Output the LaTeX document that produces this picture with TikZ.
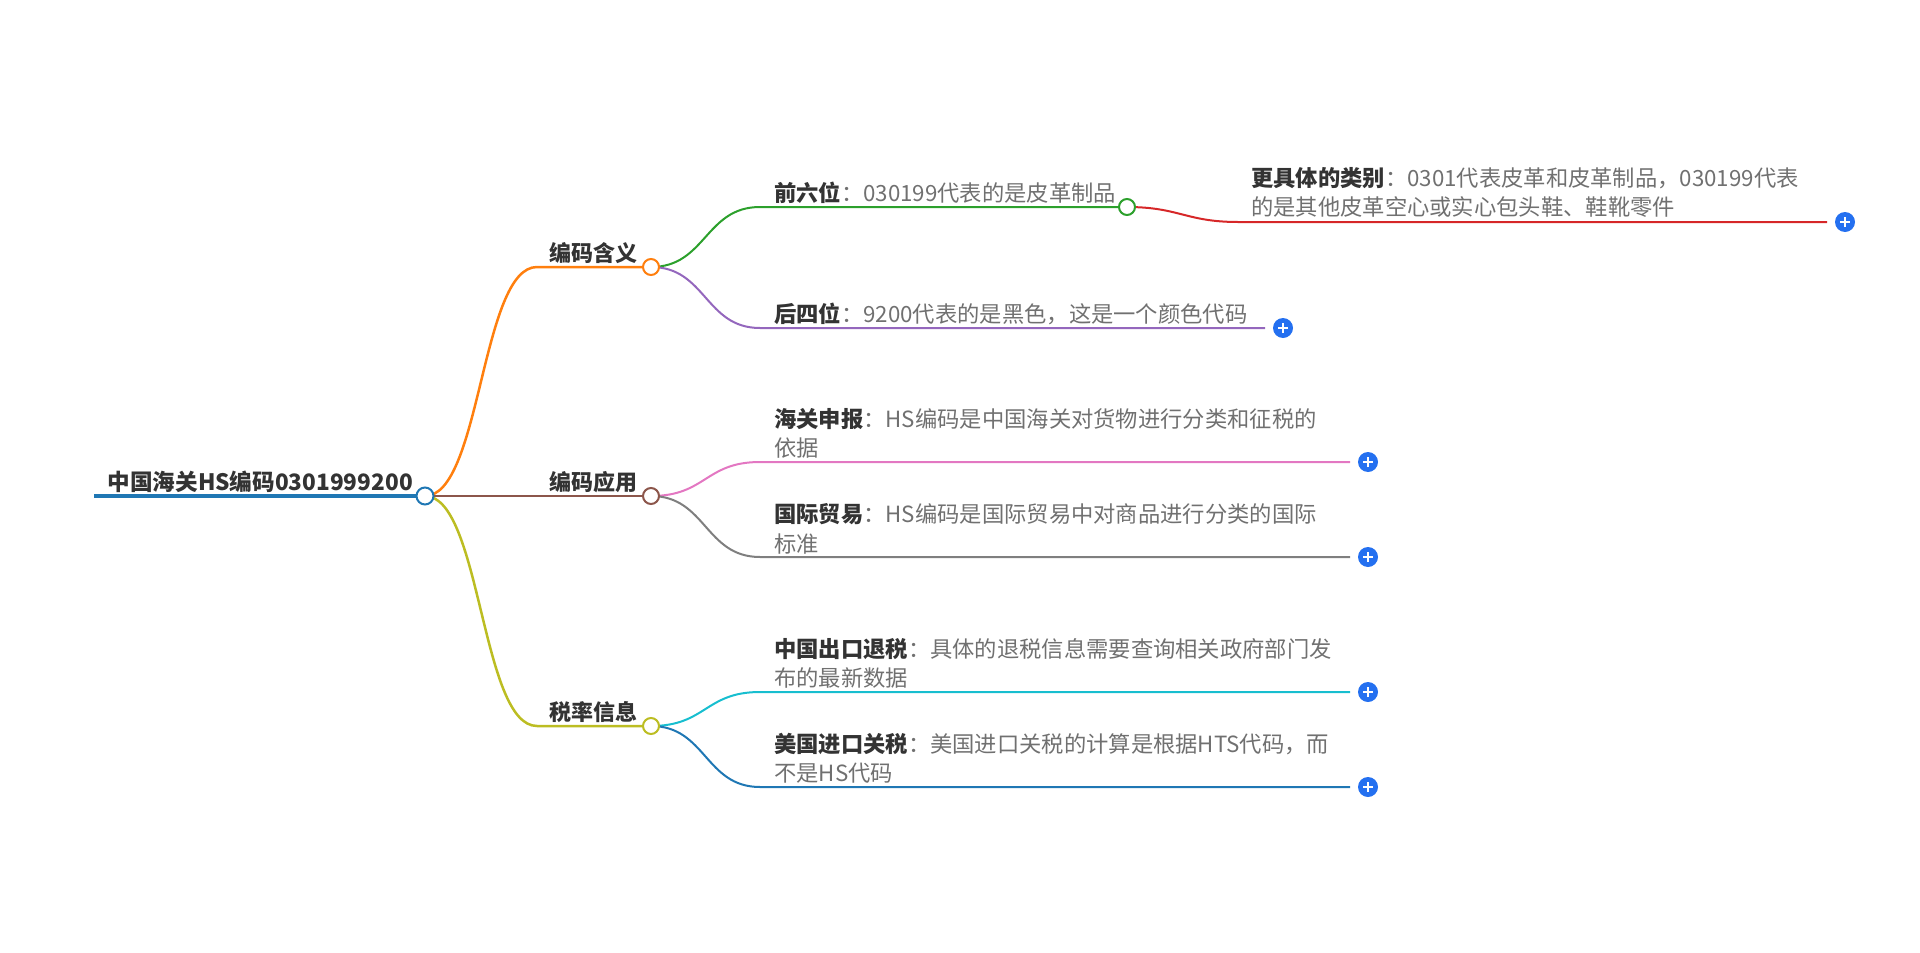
\documentclass[tikz,border=0pt]{standalone}
\usepackage{fontspec}
\setmainfont{Noto Sans CJK SC}
\usepackage{xcolor}
\usepackage{tikz}

\definecolor{cblue}{HTML}{1F77B4}
\definecolor{corange}{HTML}{FF7F0E}
\definecolor{cgreen}{HTML}{2CA02C}
\definecolor{cred}{HTML}{D62728}
\definecolor{cpurple}{HTML}{9467BD}
\definecolor{cbrown}{HTML}{8C564B}
\definecolor{cpink}{HTML}{E377C2}
\definecolor{cgray}{HTML}{7F7F7F}
\definecolor{colive}{HTML}{BCBD22}
\definecolor{ccyan}{HTML}{17BECF}
\definecolor{btn}{HTML}{2470F0}
\definecolor{ink}{HTML}{333333}
\definecolor{soft}{HTML}{707070}

\begin{document}
\begin{tikzpicture}[x=1pt,y=-1pt,
    hd/.style={inner sep=0,anchor=south east,text=ink,font=\fontsize{22}{26}\selectfont\bfseries},
    lbl/.style={inner sep=0,anchor=south west,align=left,text=soft,font=\fontsize{22.3}{29.5}\selectfont},
    dot/.style={circle,draw=#1,fill=white,line width=2pt,minimum size=16pt,inner sep=0},
    plus/.style={circle,fill=btn,minimum size=20pt,inner sep=0,
        path picture={\draw[white,line width=2pt]
            ([xshift=-5pt]path picture bounding box.center) -- ([xshift=5pt]path picture bounding box.center)
            ([yshift=-5pt]path picture bounding box.center) -- ([yshift=5pt]path picture bounding box.center);}},
    l1/.style={line width=2.5pt,draw=#1},
    l2/.style={line width=2pt,draw=#1},
    swing/.style={out=0,in=180,distance=#1}]
    \useasboundingbox (0,0) rectangle (1920,953);

    \coordinate (rootL) at (94,496);
    \coordinate (root) at (425,496);
    \coordinate (meanS) at (537,267);
    \coordinate (mean) at (651,267);
    \coordinate (use) at (651,496);
    \coordinate (rateS) at (537,726);
    \coordinate (rate) at (651,726);
    \coordinate (firstS) at (760,207);
    \coordinate (first) at (1127,207);
    \coordinate (lastS) at (760,328);
    \coordinate (lastE) at (1265,328);
    \coordinate (detailS) at (1238,222);
    \coordinate (detailE) at (1827,222);
    \coordinate (declS) at (760,462);
    \coordinate (declE) at (1350,462);
    \coordinate (tradeS) at (760,557);
    \coordinate (tradeE) at (1350,557);
    \coordinate (refundS) at (760,692);
    \coordinate (refundE) at (1350,692);
    \coordinate (importS) at (760,787);
    \coordinate (importE) at (1350,787);

    \draw[cblue,line width=4.5pt] (rootL) -- (root);
    \draw[l1=corange] (root) to[swing=56pt] (meanS) -- (mean);
    \draw[l1=cbrown] (root) -- (use);
    \draw[l1=colive] (root) to[swing=56pt] (rateS) -- (rate);
    \draw[l2=cgreen] (mean) to[swing=55pt] (firstS) -- (first);
    \draw[l2=cpurple] (mean) to[swing=55pt] (lastS) -- (lastE);
    \draw[l2=cred] (first) to[swing=52pt] (detailS) -- (detailE);
    \draw[l2=cpink] (use) to[swing=55pt] (declS) -- (declE);
    \draw[l2=cgray] (use) to[swing=55pt] (tradeS) -- (tradeE);
    \draw[l2=ccyan] (rate) to[swing=55pt] (refundS) -- (refundE);
    \draw[l2=cblue] (rate) to[swing=55pt] (importS) -- (importE);

    \node[dot=cblue,minimum size=17pt] (rootdot) at (root) {};
    \node[dot=corange] (meandot) at (mean) {};
    \node[dot=cbrown] (usedot) at (use) {};
    \node[dot=colive] (ratedot) at (rate) {};
    \node[dot=cgreen] (firstdot) at (first) {};

    \node[plus] (lastP) at (1283,328) {};
    \node[plus] (detailP) at (1845,222) {};
    \node[plus] (declP) at (1368,462) {};
    \node[plus] (tradeP) at (1368,557) {};
    \node[plus] (refundP) at (1368,692) {};
    \node[plus] (importP) at (1368,787) {};

    \node[hd,font=\fontsize{22.6}{28}\selectfont\bfseries] (rootT) at (413,493) {中国海关HS编码0301999200};
    \node[hd] (meanT) at (638,264) {编码含义};
    \node[hd] (useT) at (638,493) {编码应用};
    \node[hd] (rateT) at (638,723) {税率信息};

    \node[lbl] (firstT) at (774,204) {{\bfseries\color{ink}前六位}：030199代表的是皮革制品};
    \node[lbl] (lastT) at (774,325) {{\bfseries\color{ink}后四位}：9200代表的是黑色，这是一个颜色代码};
    \node[lbl] (detailT) at (1251,218) {{\bfseries\color{ink}更具体的类别}：0301代表皮革和皮革制品，030199代表\\的是其他皮革空心或实心包头鞋、鞋靴零件};
    \node[lbl] (declT) at (774,459) {{\bfseries\color{ink}海关申报}：HS编码是中国海关对货物进行分类和征税的\\依据};
    \node[lbl] (tradeT) at (774,554) {{\bfseries\color{ink}国际贸易}：HS编码是国际贸易中对商品进行分类的国际\\标准};
    \node[lbl] (refundT) at (774,689) {{\bfseries\color{ink}中国出口退税}：具体的退税信息需要查询相关政府部门发\\布的最新数据};
    \node[lbl] (importT) at (774,784) {{\bfseries\color{ink}美国进口关税}：美国进口关税的计算是根据HTS代码，而\\不是HS代码};
\end{tikzpicture}
\end{document}
